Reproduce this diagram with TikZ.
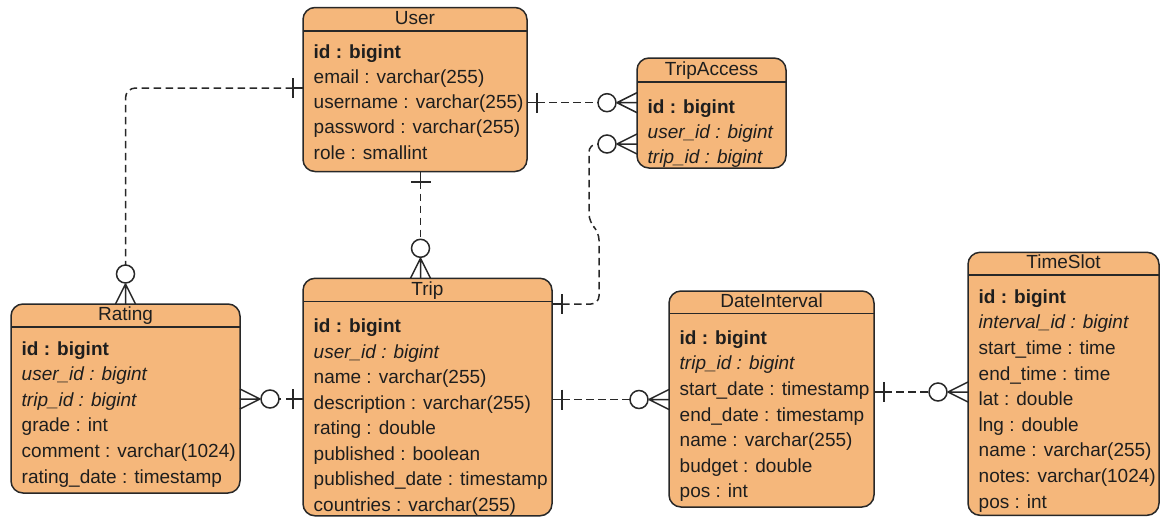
\documentclass[tikz,border=0pt]{standalone}
\usepackage{fontspec}
\setmainfont{Liberation Sans}
\usetikzlibrary{calc}
\definecolor{efill}{RGB}{245,183,123}
\definecolor{eline}{RGB}{40,40,40}
\definecolor{etext}{RGB}{30,30,30}
\tikzset{
  entity/.style={rectangle, draw=eline, line width=1.5pt, fill=efill, rounded corners=12pt, inner sep=0pt, outer sep=0pt},
  hdrline/.style={draw=eline, line width=1.5pt},
  rowtext/.style={font=\fontsize{19}{22}\selectfont, text=etext, inner sep=0pt, anchor=base west},
  titletext/.style={font=\fontsize{19}{22}\selectfont, text=etext, inner sep=0pt, anchor=base},
  conn/.style={draw=eline, line width=1.5pt, dash pattern=on 7.5pt off 4.5pt, rounded corners=10pt},
  ermark/.style={draw=eline, line width=1.5pt},
  barmark/.style={draw=eline, line width=2pt},
  zcirc/.style={circle, draw=eline, line width=1.5pt, fill=white, minimum size=18pt, inner sep=0pt, outer sep=0pt},
}
% #1 name, #2 x, #3 top, #4 width, #5 height, #6 header offset, #7 title
\newcommand\entitybox[7]{%
  \node[entity, minimum width=#4pt, minimum height=#5pt, anchor=north west] (#1) at (#2,#3) {};
  \pgfmathsetmacro\hdrb{#6-6.5}%
  \draw[hdrline] ([yshift=-#6pt]#1.north west) -- ([yshift=-#6pt]#1.north east);
  \node[titletext] (#1-t) at ([yshift=-\hdrb pt]#1.north) {#7};
}
% #1 name, #2 first baseline offset, #3 pitch, #4 rows
\newcommand\entityrows[4]{%
  \foreach \t [count=\i] in {#4} {%
    \node[rowtext] (#1-r\i) at ($(#1.north west)+(10.5,{#2+(\i-1)*#3})$) {\t};
  }%
}
% zero-or-many end: #1 edge point, #2 direction angle, #3 circle name
\newcommand\zeromany[3]{%
  \begin{scope}[shift={(#1)}, rotate=#2]
    \draw[ermark] (20,0) -- (0,10) (20,0) -- (0,0) (20,0) -- (0,-10);
    \node[zcirc] (#3) at (30,0) {};
  \end{scope}%
}
% exactly-one end: #1 edge point, #2 direction angle, #3 bar point name
\newcommand\onebar[3]{%
  \begin{scope}[shift={(#1)}, rotate=#2]
    \draw[ermark] (0,0) -- (10,0);
    \draw[barmark] (10,-10) -- (10,10);
    \coordinate (#3) at (10,0);
  \end{scope}%
}
\begin{document}
\begin{tikzpicture}[x=1pt, y=-1pt]
\useasboundingbox (0,0) rectangle (1161,517);

% entities
\entitybox{user}{303}{7.5}{224}{164}{23.5}{User}
\entityrows{user}{50.8}{25.2}{\textbf{id : bigint}, email : varchar(255), username : varchar(255), password : varchar(255), role : smallint}

\entitybox{ta}{637}{58}{149}{110}{24}{TripAccess}
\entityrows{ta}{55.3}{25}{\textbf{id : bigint}, \textit{user\_id : bigint}, \textit{trip\_id : bigint}}

\entitybox{rating}{11}{304}{229}{189}{23}{Rating}
\entityrows{rating}{51}{25.6}{\textbf{id : bigint}, \textit{user\_id : bigint}, \textit{trip\_id : bigint}, grade : int, comment : varchar(1024), rating\_date : timestamp}

\entitybox{trip}{303}{278.3}{249}{237.5}{23.4}{Trip}
\entityrows{trip}{54.4}{25.5}{\textbf{id : bigint}, \textit{user\_id : bigint}, name : varchar(255), description : varchar(255), rating : double, published : boolean, published\_date : timestamp, countries : varchar(255)}

\entitybox{di}{669}{291}{205}{216}{22.5}{DateInterval}
\entityrows{di}{53.3}{25.6}{\textbf{id : bigint}, \textit{trip\_id : bigint}, start\_date : timestamp, end\_date : timestamp, name : varchar(255), budget : double, pos : int}

\entitybox{ts}{968}{252.3}{191}{263}{22.7}{TimeSlot}
\entityrows{ts}{51}{25.6}{\textbf{id : bigint}, \textit{interval\_id : bigint}, start\_time : time, end\_time : time, lat : double, lng : double, name : varchar(255), notes: varchar(1024), pos : int}

% relationship ends
\onebar{user.west |- 0,88}{180}{u1}
\zeromany{rating.north}{90}{r1c}

\onebar{user.east |- 0,102.7}{0}{u2}
\zeromany{ta.west |- 0,102.7}{180}{ta1c}

\onebar{user.south -| 420.5,0}{-90}{u3}
\zeromany{trip.north -| 420.5,0}{90}{t3c}

\onebar{trip.east |- 0,304}{0}{t4}
\zeromany{ta.west |- 0,144}{180}{ta2c}

\onebar{trip.west |- 0,399}{180}{t5}
\zeromany{rating.east |- 0,399}{0}{r5c}

\onebar{trip.east |- 0,399.5}{0}{t6}
\zeromany{di.west |- 0,399.5}{180}{d6c}

\onebar{di.east |- 0,392}{0}{d7}
\zeromany{ts.west |- 0,392}{180}{ts7c}

% connectors
\draw[conn] (u1) -| (r1c.north);
\draw[conn] (u2) -- (ta1c.west);
\draw[conn] (u3) -- (t3c.north);
\draw[conn, rounded corners=8pt] (t4) -- ++(37,0) -- ++(0,-72) -- ++(-10,-10) |- (ta2c.west);
\draw[conn] (t5) -- (r5c.east);
\draw[conn] (t6) -- (d6c.west);
\draw[conn] (d7) -- (ts7c.west);
\end{tikzpicture}
\end{document}
